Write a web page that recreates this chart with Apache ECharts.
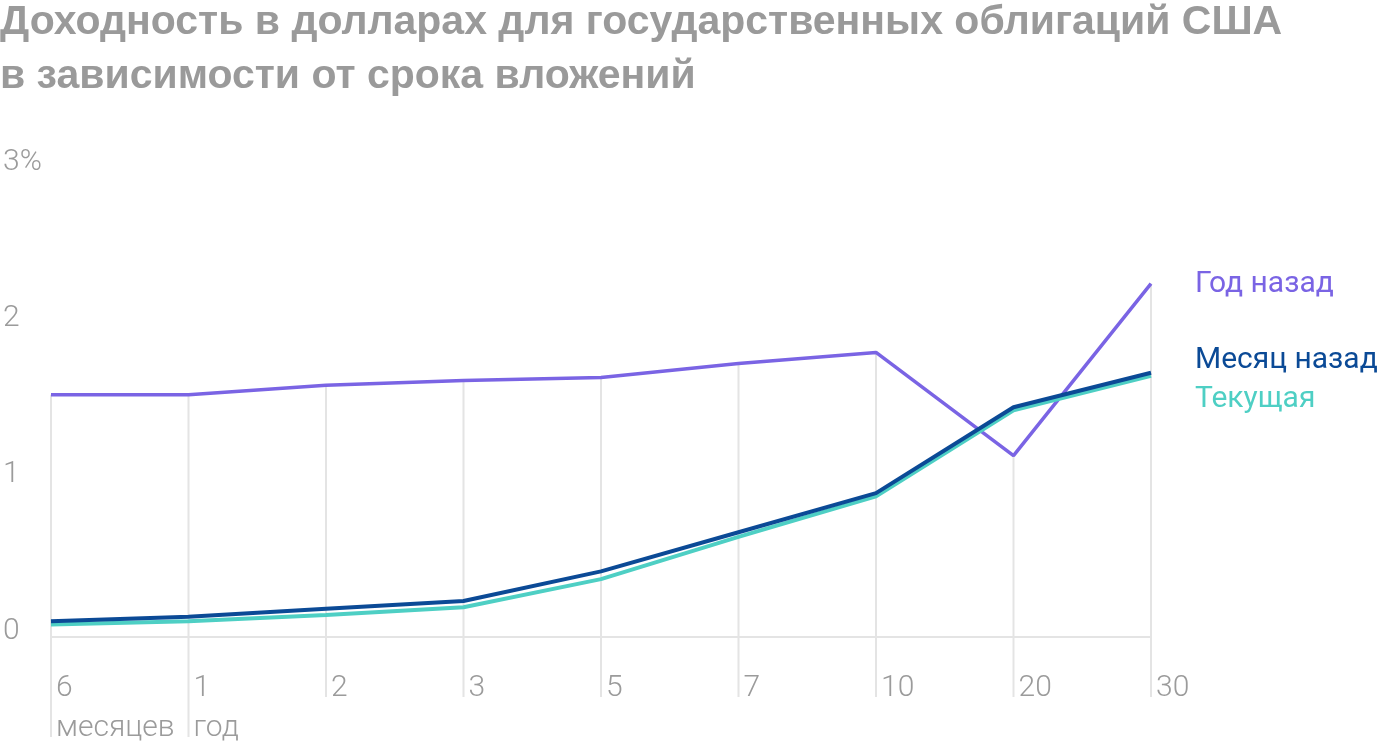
<!DOCTYPE html>
<html>
<head>
<meta charset="utf-8">
<script src="https://cdn.jsdelivr.net/npm/echarts@6/dist/echarts.min.js"></script>
<style>
  html, body { margin: 0; padding: 0; background: #ffffff; }
  #chart { width: 1400px; height: 748px; }
</style>
</head>
<body>
<div id="chart"></div>
<script>
// ---- data ----
const categories = ['6\nмесяцев', '1\nгод', '2', '3', '5', '7', '10', '20', '30'];
const yearAgo  = [1.55, 1.55, 1.61, 1.64, 1.66, 1.75, 1.82, 1.16, 2.26];
const monthAgo = [0.10, 0.13, 0.18, 0.23, 0.42, 0.67, 0.92, 1.47, 1.69];
const current  = [0.08, 0.10, 0.14, 0.19, 0.37, 0.64, 0.90, 1.45, 1.67];
const yTickLabels = ['0', '1', '2', '3%'];
const seriesNames = ['Год назад', 'Месяц назад', 'Текущая'];
const titleText = 'Доходность в долларах для государственных облигаций США\nв зависимости от срока вложений';

// ---- styles ----
const gray = '#9b9b9b';
const gridGray = '#e4e4e4';
const cPurple = '#7a64e4';
const cBlue = '#0b4a96';
const cTeal = '#4ecfc4';
const labelFont = 'Roboto, "Noto Sans", sans-serif';
const labelSize = 30;
const labelWeight = 300;

const chart = echarts.init(document.getElementById('chart'), null, { renderer: 'canvas' });

const dropData = categories.map((c, i) => [i, yearAgo[i], c.indexOf('\n') >= 0 ? 1 : 0]);

const option = {
  animation: false,
  backgroundColor: '#ffffff',
  title: {
    text: titleText,
    left: 0,
    top: -4,
    padding: 0,
    textStyle: {
      fontFamily: '"Liberation Sans", Arial, sans-serif',
      fontWeight: 'bold',
      fontSize: 41,
      lineHeight: 54,
      color: '#9a9a9a'
    }
  },
  grid: { left: 48, right: 249, top: 168, bottom: 111, containLabel: false },
  xAxis: {
    type: 'category',
    data: categories,
    boundaryGap: false,
    axisLine: { show: true, lineStyle: { color: gridGray, width: 2 } },
    axisTick: { show: false },
    splitLine: { show: false },
    axisLabel: {
      align: 'left',
      verticalAlign: 'top',
      margin: 31,
      padding: [0, 0, 0, 5],
      fontSize: labelSize,
      fontWeight: labelWeight,
      lineHeight: 40,
      color: gray,
      fontFamily: labelFont,
      interval: 0
    }
  },
  yAxis: {
    type: 'value',
    min: 0,
    max: 3,
    interval: 1,
    axisLine: { show: false },
    axisTick: { show: false },
    splitLine: { show: false },
    axisLabel: {
      align: 'left',
      verticalAlign: 'bottom',
      margin: 48,
      fontSize: labelSize,
      fontWeight: labelWeight,
      lineHeight: 12,
      color: gray,
      fontFamily: labelFont,
      formatter: (v) => yTickLabels[Math.round(v)]
    }
  },
  series: [
    {
      type: 'custom',
      silent: true,
      z: 1,
      data: dropData,
      renderItem: function (params, api) {
        const top = api.coord([api.value(0), api.value(1)]);
        const base = api.coord([api.value(0), 0]);
        const ext = api.value(2) ? 100 : 60;
        return {
          type: 'line',
          shape: { x1: top[0], y1: top[1], x2: base[0], y2: base[1] + ext },
          style: { stroke: gridGray, lineWidth: 2 }
        };
      }
    },
    {
      name: seriesNames[0],
      type: 'line',
      data: yearAgo,
      symbol: 'none',
      z: 3,
      lineStyle: { color: cPurple, width: 3.5 },
      endLabel: {
        show: true, formatter: '{a}', color: cPurple, fontSize: labelSize, fontWeight: 400,
        fontFamily: labelFont, distance: 44, offset: [0, 1]
      }
    },
    {
      name: seriesNames[2],
      type: 'line',
      data: current,
      symbol: 'none',
      z: 3,
      lineStyle: { color: cTeal, width: 4 },
      endLabel: {
        show: true, formatter: '{a}', color: cTeal, fontSize: labelSize, fontWeight: 400,
        fontFamily: labelFont, distance: 44, offset: [0, 24]
      }
    },
    {
      name: seriesNames[1],
      type: 'line',
      data: monthAgo,
      symbol: 'none',
      z: 4,
      lineStyle: { color: cBlue, width: 4 },
      endLabel: {
        show: true, formatter: '{a}', color: cBlue, fontSize: labelSize, fontWeight: 400,
        fontFamily: labelFont, distance: 44, offset: [0, -12]
      }
    }
  ]
};

chart.setOption(option);
</script>
</body>
</html>
